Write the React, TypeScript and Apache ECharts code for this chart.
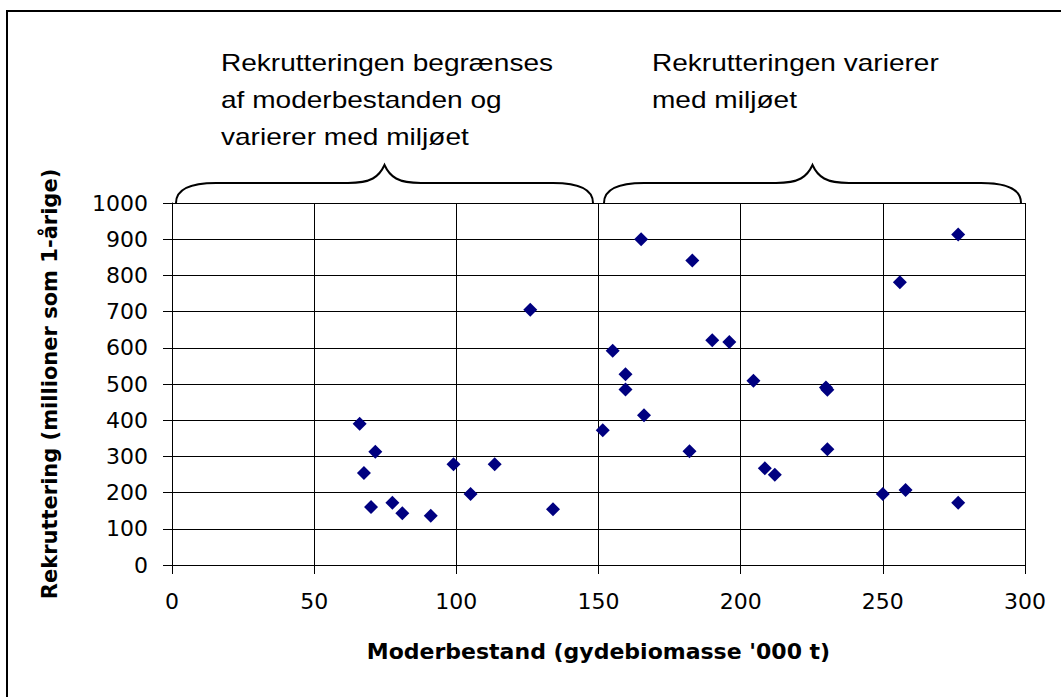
import React, { useEffect, useRef } from "react";
import * as echarts from "echarts";

// Moderbestand (gydebiomasse '000 t)
const spawningBiomass = [
  66, 71.5, 67.5, 70, 77.5, 81, 91, 99, 105, 113.5, 126, 134, 151.5,
  155, 165, 183, 159.5, 159.5, 166, 182, 190, 196, 204.5, 230, 230.5,
  230.5, 208.5, 212, 256, 276.5, 250, 258, 276.5,
];
// Rekruttering (millioner som 1-årige)
const recruitment = [
  390, 313, 254, 160, 172, 143, 136, 278, 196, 278, 705, 154, 372,
  592, 900, 841, 527, 485, 414, 314, 621, 616, 509, 490, 484,
  320, 267, 249, 781, 913, 196, 207, 172,
];

const xTitle = "Moderbestand (gydebiomasse '000 t)";
const yTitle = "Rekruttering (millioner som 1-årige)";
const leftNote = ["Rekrutteringen begrænses", "af moderbestanden og", "varierer med miljøet"];
const rightNote = ["Rekrutteringen varierer", "med miljøet"];

const BRACE_D =
  "M0,38 C0,26 12,18 40,18 L172,18 C195,18 203,12 208.5,0 C214,12 222,18 245,18 L377,18 C405,18 417,26 417,38";

let braceRegistered = false;
function ensureBrace() {
  if (braceRegistered) return;
  echarts.graphic.registerShape("brace", echarts.graphic.extendPath(BRACE_D, {}) as any);
  braceRegistered = true;
}

export default function App() {
  const ref = useRef<HTMLDivElement>(null);
  useEffect(() => {
    if (!ref.current) return;
    ensureBrace();
    const chart = echarts.init(ref.current, undefined, { renderer: "svg" });
    const noteText = (lines: string[], x: number, y0: number) =>
      lines.map((t, i) => ({
        type: "text",
        x,
        y: y0 + i * 37,
        scaleX: 1.22,
        style: {
          text: t,
          fontSize: 23,
          fontFamily: "Liberation Sans",
          fill: "#000",
          align: "left",
          verticalAlign: "middle",
        },
      }));
    const axisLabel = {
      fontFamily: "DejaVu Sans",
      fontSize: 22,
      color: "#000",
      formatter: (v: number) => String(v),
    };
    const nameStyle = {
      fontFamily: "DejaVu Sans",
      fontWeight: "bold" as const,
      fontSize: 21,
      color: "#000",
    };
    chart.setOption({
      animation: false,
      backgroundColor: "#fff",
      grid: { left: 172, top: 203, right: 36, bottom: 132, containLabel: false },
      xAxis: {
        type: "value",
        min: 0,
        max: 300,
        interval: 50,
        name: xTitle,
        nameLocation: "middle",
        nameGap: 75,
        nameTextStyle: { ...nameStyle, fontSize: 22 },
        axisLine: { show: true, onZero: false, lineStyle: { color: "#000", width: 1 } },
        axisTick: { show: true, length: 9, lineStyle: { color: "#000" } },
        axisLabel: { ...axisLabel, margin: 25 },
        splitLine: { show: true, lineStyle: { color: "#000", width: 1 } },
      },
      yAxis: {
        type: "value",
        min: 0,
        max: 1000,
        interval: 100,
        name: yTitle,
        nameLocation: "middle",
        nameGap: 112,
        nameTextStyle: nameStyle,
        axisLine: { show: true, onZero: false, lineStyle: { color: "#000", width: 1 } },
        axisTick: { show: true, length: 9, lineStyle: { color: "#000" } },
        axisLabel: { ...axisLabel, margin: 24 },
        splitLine: { show: true, lineStyle: { color: "#000", width: 1 } },
      },
      series: [
        {
          type: "scatter",
          symbol: "diamond",
          symbolSize: 14,
          itemStyle: { color: "#000080", opacity: 1 },
          data: spawningBiomass.map((x, i) => [x, recruitment[i]]),
        },
      ],
      graphic: [
        {
          type: "rect",
          shape: { x: 7, y: 11, width: 1200, height: 900 },
          style: { fill: "none", stroke: "#000", lineWidth: 2 },
          silent: true,
        },
        {
          type: "brace",
          x: 176,
          y: 165,
          style: { fill: "none", stroke: "#000", lineWidth: 2 },
        },
        {
          type: "brace",
          x: 604,
          y: 165,
          style: { fill: "none", stroke: "#000", lineWidth: 2 },
        },
        ...noteText(leftNote, 221, 63),
        ...noteText(rightNote, 652, 63),
      ],
    });
    return () => chart.dispose();
  }, []);
  return (
    <div
      ref={ref}
      style={{ position: "fixed", left: 0, top: 0, width: 1061, height: 697 }}
    />
  );
}
